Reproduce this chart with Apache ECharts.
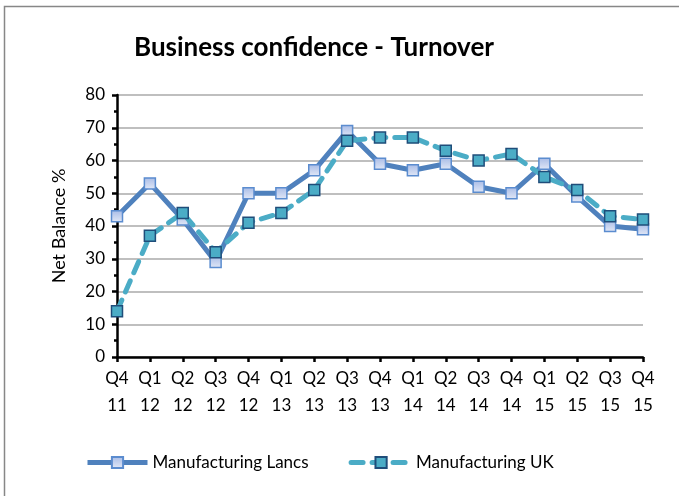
<!DOCTYPE html>
<html><head><meta charset="utf-8">
<script src="https://cdn.jsdelivr.net/npm/echarts@6/dist/echarts.min.js"></script>
<style>html,body{margin:0;padding:0;background:#fff}#c{width:679px;height:496px}</style>
</head><body><div id="c"></div>
<script>
const categories = ['Q4\n11','Q1\n12','Q2\n12','Q3\n12','Q4\n12','Q1\n13','Q2\n13','Q3\n13','Q4\n13','Q1\n14','Q2\n14','Q3\n14','Q4\n14','Q1\n15','Q2\n15','Q3\n15','Q4\n15'];
const lancs = [43,53,42,29,50,50,57,69,59,57,59,52,50,59,49,40,39];
const uk = [14,37,44,32,41,44,51,66,67,67,63,60,62,55,51,43,42];
const yTicks = [0,10,20,30,40,50,60,70,80];

const FONT = 'Lato, "Open Sans", sans-serif';
const chart = echarts.init(document.getElementById('c'), null, {renderer:'canvas'});
chart.setOption({
  animation:false,
  backgroundColor:'#fff',
  graphic:[{type:'rect',shape:{x:4.5,y:6.5,width:700,height:520},style:{fill:'none',stroke:'#878787',lineWidth:1.5},silent:true}],
  title:{text:'Business confidence - Turnover',left:309,top:30,textAlign:'center',
    textStyle:{fontFamily:FONT,fontWeight:'bold',fontSize:26,color:'#000'}},
  legend:{top:449,left:80,itemWidth:60,itemHeight:14,itemGap:40,
    lineStyle:{width:5},
    textStyle:{fontFamily:FONT,fontSize:17,color:'#000'},
    data:['Manufacturing Lancs','Manufacturing UK']},
  grid:{left:117,right:36,top:95,bottom:139,containLabel:false},
  xAxis:{type:'category',data:categories,boundaryGap:false,
    axisLine:{lineStyle:{color:'#000',width:2.5}},
    axisTick:{show:true,length:5,lineStyle:{color:'#000',width:2.5}},
    axisLabel:{fontFamily:FONT,fontSize:17,color:'#000',lineHeight:27,margin:8,interval:0},
    splitLine:{show:false}},
  yAxis:{type:'value',min:yTicks[0],max:yTicks[yTicks.length-1],interval:10,
    name:'Net Balance %',nameLocation:'middle',nameGap:49,
    nameTextStyle:{fontFamily:FONT,fontSize:18,color:'#000'},
    axisLine:{show:true,lineStyle:{color:'#000',width:2.5}},
    axisTick:{show:true,length:5,lineStyle:{color:'#000',width:2.5}},
    minorTick:{show:true,splitNumber:2,length:3,lineStyle:{color:'#000',width:2.5}},
    axisLabel:{fontFamily:FONT,fontSize:17,color:'#000',margin:12},
    splitLine:{show:true,lineStyle:{color:'#bfbfbf',width:2}}},
  series:[
    {name:'Manufacturing Lancs',type:'line',data:lancs,symbol:'rect',symbolSize:11,
      lineStyle:{color:'#4f81bd',width:5},
      itemStyle:{color:new echarts.graphic.LinearGradient(0,0,0,1,[{offset:0,color:'#a7bbe6'},{offset:1,color:'#e3e9f7'}]),
        borderColor:'#5b8ccf',borderWidth:1.5},
      z:3},
    {name:'Manufacturing UK',type:'line',data:uk,symbol:'rect',symbolSize:11,
      lineStyle:{color:'#4bacc6',width:5,type:[12,9],cap:'round'},
      itemStyle:{color:'#4bacc6',borderColor:'#1f4d7a',borderWidth:1.5},
      z:4}
  ]
});
</script></body></html>
